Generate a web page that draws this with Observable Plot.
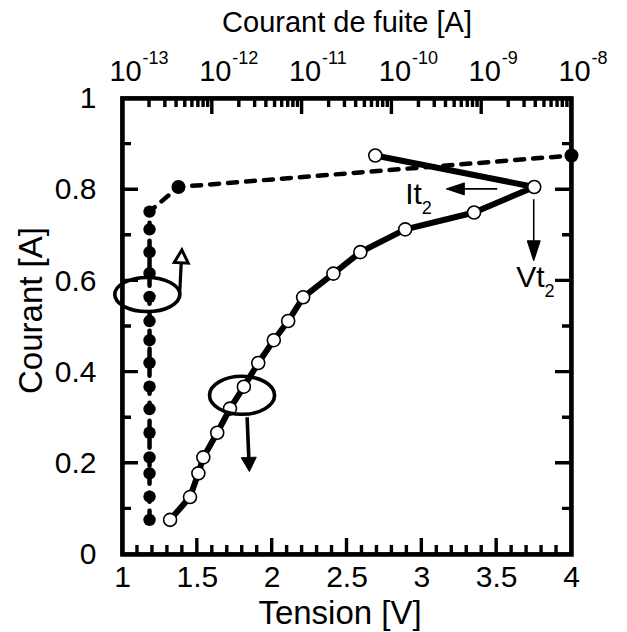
<!DOCTYPE html>
<html><head><meta charset="utf-8">
<script src="https://cdn.jsdelivr.net/npm/d3@7"></script>
<script src="https://cdn.jsdelivr.net/npm/@observablehq/plot@0.6"></script>
<style>
body{margin:0;background:#fff;color:#000}
#chart{position:relative;width:627px;height:632px}
#chart > svg{position:absolute;left:0;top:0}
</style></head><body><div id="chart"></div>
<script>
// ---- Data ----
// I-V curve (open circles): Tension [V] vs Courant [A]
const tension = [1.318, 1.451, 1.507, 1.540, 1.633, 1.718, 1.811, 1.907, 2.011, 2.107, 2.207, 2.409, 2.589, 2.889, 3.349, 3.751, 2.689];
const courant = [0.076, 0.126, 0.178, 0.213, 0.267, 0.320, 0.368, 0.420, 0.470, 0.512, 0.564, 0.616, 0.663, 0.713, 0.750, 0.806, 0.875];
// Leakage curve (filled dots): Courant de fuite [A] vs Courant [A]
const fuite = [2e-13, 2e-13, 2e-13, 2e-13, 2e-13, 2e-13, 2e-13, 2e-13, 2e-13, 2e-13, 2e-13, 2e-13, 2e-13, 2e-13, 2e-13, 4.2e-13, 1e-8];
const courantFuite = [0.076, 0.127, 0.178, 0.213, 0.267, 0.319, 0.368, 0.420, 0.470, 0.512, 0.565, 0.617, 0.663, 0.713, 0.752, 0.806, 0.875];
// Tick labels
const xTickLabels = [1, 1.5, 2, 2.5, 3, 3.5, 4];
const yTickLabels = [0, 0.2, 0.4, 0.6, 0.8, 1];
const topTickValues = [1e-13, 1e-12, 1e-11, 1e-10, 1e-9, 1e-8];
const topExponents = ["-13", "-12", "-11", "-10", "-9", "-8"];
// Annotation labels
const annotationLabels = [
  {base: "It", sub: "2", x: 3.00, y: 0.769, subY: 0.747},
  {base: "Vt", sub: "2", x: 3.82, y: 0.587, subY: 0.565}
];

// ---- Layout ----
const W = 627, H = 632, mL = 122, mR = 56, mT = 98, mB = 78;
const FONT = "'Liberation Sans', Arial, Helvetica, sans-serif";
const FS = 30, FS_TITLE = 33, FS_TOP = 29, FS_SMALL = 18;
const TICK_MINOR = 9, TICK_MAJOR = 16;

const ivData = tension.map((v, i) => ({v, i: courant[i]}));
const leakData = fuite.map((f, i) => ({f, i: courantFuite[i]}));

const xMajor = [1.5, 2, 2.5, 3, 3.5];
const xMinor = [1.1, 1.2, 1.3, 1.4, 1.6, 1.7, 1.8, 1.9, 2.1, 2.2, 2.3, 2.4, 2.6, 2.7, 2.8, 2.9, 3.1, 3.2, 3.3, 3.4, 3.6, 3.7, 3.8, 3.9];
const yMajor = [0.2, 0.4, 0.6, 0.8];
const yMinor = [0.1, 0.3, 0.5, 0.7, 0.9];
const topMajor = [1e-12, 1e-11, 1e-10, 1e-9];
const topMinor = [];
for (let e = -13; e < -8; e++) for (let k = 2; k <= 9; k++) topMinor.push(k * Math.pow(10, e));

// Frame + inward ticks of the linear axes, as one path through the plot's scales
function frameAndTicks(index, scales) {
  const x = scales.x, y = scales.y;
  const xl = x(1), xr = x(4), yb = y(0), yt = y(1);
  let d = `M${xl},${yt}L${xr},${yt}L${xr},${yb}L${xl},${yb}Z`;
  for (const v of xMinor) d += `M${x(v)},${yb}L${x(v)},${yb - TICK_MINOR}`;
  for (const v of xMajor) d += `M${x(v)},${yb}L${x(v)},${yb - TICK_MAJOR}`;
  for (const v of yMinor) d += `M${xl},${y(v)}L${xl + TICK_MINOR},${y(v)}M${xr},${y(v)}L${xr - TICK_MINOR},${y(v)}`;
  for (const v of yMajor) d += `M${xl},${y(v)}L${xl + TICK_MAJOR},${y(v)}M${xr},${y(v)}L${xr - TICK_MAJOR},${y(v)}`;
  const g = d3.create("svg:g");
  g.append("path").attr("d", d).attr("fill", "none").attr("stroke", "black").attr("stroke-width", 3.4);
  return g.node();
}
// inward ticks of the top (log) axis, as one path
function logTicks(index, scales) {
  const x = scales.x, y = scales.y;
  const yt = y(1);
  let d = "";
  for (const v of topMinor) d += `M${x(v)},${yt}L${x(v)},${yt + TICK_MINOR}`;
  for (const v of topMajor) d += `M${x(v)},${yt}L${x(v)},${yt + TICK_MAJOR}`;
  const g = d3.create("svg:g");
  g.append("path").attr("d", d).attr("fill", "none").attr("stroke", "black").attr("stroke-width", 3.4);
  return g.node();
}

// annotations drawn with the plot's scales
function annotations(index, scales) {
  const x = scales.x, y = scales.y;
  const g = d3.create("svg:g").attr("fill", "none").attr("stroke", "black");
  function ellipse(cx, cy, rx, ry) {
    g.append("ellipse").attr("cx", x(cx)).attr("cy", y(cy)).attr("rx", rx).attr("ry", ry).attr("stroke-width", 3.6);
  }
  function arrow(x0, y0, x1, y1, w, hl, hw, filled) {
    const X0 = x(x0), Y0 = y(y0), X1 = x(x1), Y1 = y(y1);
    const dx = X1 - X0, dy = Y1 - Y0, L = Math.hypot(dx, dy), ux = dx / L, uy = dy / L;
    const bx = X1 - ux * hl, by = Y1 - uy * hl;
    g.append("path").attr("d", `M${X0},${Y0}L${bx},${by}`).attr("stroke-width", w);
    g.append("path")
      .attr("d", `M${X1},${Y1}L${bx - uy * hw},${by + ux * hw}L${bx + uy * hw},${by - ux * hw}Z`)
      .attr("fill", filled ? "black" : "white")
      .attr("stroke-width", filled ? 1 : 3)
      .attr("stroke-linejoin", "miter");
  }
  ellipse(1.169, 0.569, 32.5, 17);
  arrow(1.384, 0.561, 1.40, 0.667, 3.2, 13, 7, false);
  ellipse(1.802, 0.348, 32.5, 19);
  arrow(1.836, 0.300, 1.851, 0.181, 3.6, 14, 7.5, true);
  arrow(3.507, 0.8007, 3.167, 0.8007, 1.6, 18, 6, true);
  arrow(3.751, 0.778, 3.751, 0.643, 1.6, 20, 6.5, true);
  return g.node();
}

const common = {
  width: W, height: H, marginLeft: mL, marginRight: mR, marginTop: mT, marginBottom: mB,
  style: {fontFamily: FONT, fontSize: FS + "px", background: "transparent", overflow: "visible", color: "black"},
  y: {domain: [0, 1], axis: null}
};

const plotA = Plot.plot({
  ...common,
  x: {domain: [1, 4], axis: null},
  marks: [
    Plot.text(xTickLabels, {x: d => d, frameAnchor: "bottom", lineAnchor: "top", dy: 11, text: d => String(d), fontSize: FS}),
    Plot.text(yTickLabels, {y: d => d, frameAnchor: "left", textAnchor: "end", dx: -26, text: d => String(d), fontSize: FS}),
    Plot.text(["Tension [V]"], {frameAnchor: "bottom", textAnchor: "middle", lineAnchor: "bottom", dy: 69, dx: -7, fontSize: FS_TITLE}),
    Plot.text(["Courant [A]"], {y: () => 0.535, frameAnchor: "left", textAnchor: "middle", lineAnchor: "middle", rotate: -90, dx: -91, fontSize: FS_TITLE}),
    Plot.line(ivData, {x: "v", y: "i", stroke: "black", strokeWidth: 6}),
    Plot.dot(ivData, {x: "v", y: "i", r: 6.5, fill: "white", stroke: "black", strokeWidth: 1.6}),
    annotations,
    Plot.text(annotationLabels, {x: "x", y: "y", text: "base", textAnchor: "end", lineAnchor: "bottom", fontSize: FS}),
    Plot.text(annotationLabels, {x: "x", y: "subY", text: "sub", textAnchor: "start", lineAnchor: "bottom", fontSize: FS_SMALL}),
    Plot.frame({stroke: "black", strokeWidth: 4.5}),
    frameAndTicks
  ]
});

const plotB = Plot.plot({
  ...common,
  x: {type: "log", domain: [1e-13, 1e-8], axis: null},
  marks: [
    Plot.text(topTickValues, {x: d => d, frameAnchor: "top", textAnchor: "middle", lineAnchor: "bottom", dy: -18, dx: 3, text: () => "10", fontSize: FS_TOP}),
    Plot.text(topTickValues, {x: d => d, frameAnchor: "top", lineAnchor: "bottom", dy: -35, dx: 20, textAnchor: "start", text: (d, i) => topExponents[i], fontSize: FS_SMALL}),
    Plot.text(["Courant de fuite [A]"], {frameAnchor: "top", textAnchor: "middle", lineAnchor: "bottom", dy: -67, fontSize: FS_TOP}),
    Plot.line(leakData, {x: "f", y: "i", stroke: "black", strokeWidth: 4.5, strokeDasharray: "9,9"}),
    Plot.dot(leakData.slice(0, 15), {x: "f", y: "i", r: 6.2, fill: "black"}),
    Plot.dot(leakData.slice(15), {x: "f", y: "i", r: 7, fill: "black"}),
    logTicks
  ]
});

const chart = document.getElementById("chart");
chart.appendChild(plotA);
chart.appendChild(plotB);
</script></body></html>
